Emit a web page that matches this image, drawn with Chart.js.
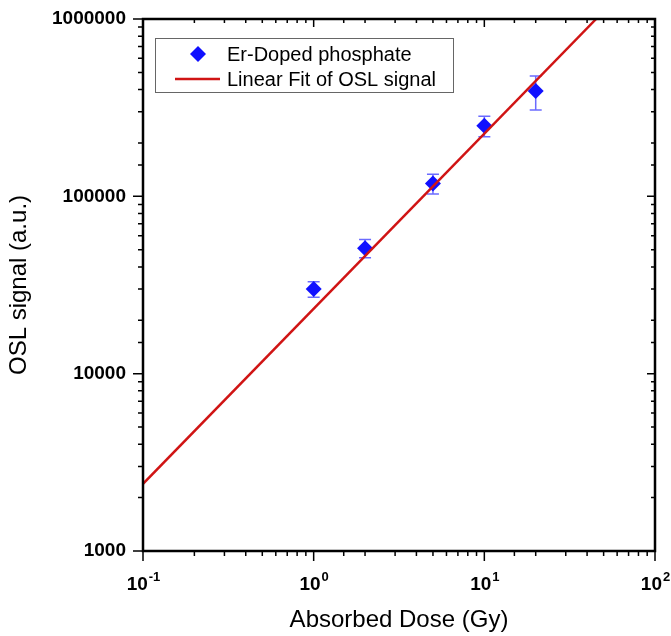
<!DOCTYPE html>
<html>
<head>
<meta charset="utf-8">
<script src="https://cdn.jsdelivr.net/npm/chart.js@4.4.1/dist/chart.umd.min.js"></script>
<style>
html,body{margin:0;padding:0;background:#fff;}
#wrap{width:671px;height:636px;}
</style>
</head>
<body>
<div id="wrap"><canvas id="oslChart"></canvas></div>
<script>
// measured OSL response vs absorbed dose
const dose = [1, 2, 5, 10, 20];
const signal = [30000, 51000, 118000, 250000, 392000];
const signalErr = [3000, 6000, 15000, 33000, 85000];

// end points of the linear fit (log-log)
const fitDose = [0.1, 45.2];
const fitSignal = [2390, 1000000];

const xTickExps = ['-1', '0', '1', '2'];
const yTickLabels = ['1000', '10000', '100000', '1000000'];

const FONT = '"Liberation Sans", Arial, sans-serif';

function isDecade(v){
    const l = Math.log10(v);
    return Math.abs(l - Math.round(l)) < 1e-6;
}

const decor = {
    id: 'decor',
    beforeDatasetsDraw(chart){
        const ctx = chart.ctx;
        const xs = chart.scales.x, ys = chart.scales.y;
        const ds = chart.data.datasets[0];
        ctx.save();
        ctx.strokeStyle = 'rgba(70,70,255,0.8)';
        ctx.lineWidth = 1.5;
        ds.data.forEach((p, i) => {
            const e = ds.errors[i];
            const px = xs.getPixelForValue(p.x);
            const top = ys.getPixelForValue(p.y + e);
            const bot = ys.getPixelForValue(p.y - e);
            ctx.beginPath();
            ctx.moveTo(px, top); ctx.lineTo(px, bot);
            ctx.moveTo(px - 6, top); ctx.lineTo(px + 6, top);
            ctx.moveTo(px - 6, bot); ctx.lineTo(px + 6, bot);
            ctx.stroke();
        });
        ctx.restore();
    },
    afterDatasetsDraw(chart){
        const ctx = chart.ctx;
        const a = chart.chartArea;
        const xs = chart.scales.x, ys = chart.scales.y;
        ctx.save();
        ctx.strokeStyle = '#000';

        // tick marks: out on bottom/left, in on top/right
        ctx.lineWidth = 1.5;
        ctx.beginPath();
        xs.ticks.forEach(t => {
            const px = xs.getPixelForValue(t.value);
            const big = isDecade(t.value);
            ctx.moveTo(px, a.bottom); ctx.lineTo(px, a.bottom + (big ? 10 : 5));
            ctx.moveTo(px, a.top); ctx.lineTo(px, a.top + (big ? 8 : 4));
        });
        ys.ticks.forEach(t => {
            const py = ys.getPixelForValue(t.value);
            const big = isDecade(t.value);
            ctx.moveTo(a.left, py); ctx.lineTo(a.left - (big ? 10 : 5), py);
            ctx.moveTo(a.right, py); ctx.lineTo(a.right - (big ? 8 : 4), py);
        });
        ctx.stroke();

        // frame
        ctx.lineWidth = 2.5;
        ctx.strokeRect(a.left, a.top, a.right - a.left, a.bottom - a.top);

        // x tick labels 10^n
        ctx.fillStyle = '#000';
        ctx.textBaseline = 'alphabetic';
        ctx.textAlign = 'left';
        xs.ticks.forEach(t => {
            if (!isDecade(t.value)) return;
            const exp = xTickExps[Math.round(Math.log10(t.value)) + 1];
            ctx.font = 'bold 19px ' + FONT;
            const wb = ctx.measureText('10').width;
            ctx.font = 'bold 13px ' + FONT;
            const we = ctx.measureText(exp).width;
            const px = xs.getPixelForValue(t.value);
            const x0 = px - (wb + we) / 2;
            ctx.font = 'bold 19px ' + FONT;
            ctx.fillText('10', x0, a.bottom + 39);
            ctx.font = 'bold 13px ' + FONT;
            ctx.fillText(exp, x0 + wb + 1, a.bottom + 30);
        });

        // legend box
        const lx = 155, ly = 38, lw = 298, lh = 54;
        ctx.fillStyle = '#fff';
        ctx.fillRect(lx, ly, lw, lh);
        ctx.strokeStyle = '#666';
        ctx.lineWidth = 1;
        ctx.strokeRect(lx + 0.5, ly + 0.5, lw, lh);

        const pts = chart.data.datasets[0], fit = chart.data.datasets[1];
        ctx.font = '20px ' + FONT;
        ctx.textBaseline = 'middle';
        // diamond symbol
        ctx.fillStyle = pts.backgroundColor;
        ctx.beginPath();
        ctx.moveTo(198, 46); ctx.lineTo(206, 54); ctx.lineTo(198, 62); ctx.lineTo(190, 54);
        ctx.closePath(); ctx.fill();
        ctx.fillStyle = '#000';
        ctx.fillText(pts.label, 227, 55);
        // line symbol
        ctx.strokeStyle = fit.borderColor;
        ctx.lineWidth = 2.5;
        ctx.beginPath(); ctx.moveTo(175, 79); ctx.lineTo(220, 79); ctx.stroke();
        ctx.fillText(fit.label, 227, 80);
        ctx.restore();
    }
};

new Chart(document.getElementById('oslChart'), {
    type: 'scatter',
    data: {
        datasets: [{
            label: 'Er-Doped phosphate',
            data: dose.map((d, i) => ({x: d, y: signal[i]})),
            errors: signalErr,
            pointStyle: 'rectRot',
            pointRadius: 8,
            pointHoverRadius: 8,
            backgroundColor: '#1010ff',
            borderWidth: 0
        }, {
            label: 'Linear Fit of OSL signal',
            data: fitDose.map((d, i) => ({x: d, y: fitSignal[i]})),
            showLine: true,
            pointRadius: 0,
            borderColor: '#d01414',
            borderWidth: 2.5,
            order: -1
        }]
    },
    options: {
        responsive: true,
        maintainAspectRatio: false,
        animation: false,
        events: [],
        layout: {padding: {top: 19, right: 16, left: 0, bottom: 0}},
        plugins: {legend: {display: false}, tooltip: {enabled: false}},
        scales: {
            x: {
                type: 'logarithmic',
                min: 0.1, max: 100,
                grid: {display: false, drawTicks: false},
                border: {display: false},
                ticks: {display: false, autoSkip: false},
                title: {
                    display: true,
                    text: 'Absorbed Dose (Gy)',
                    color: '#000',
                    font: {family: FONT, size: 24},
                    padding: {top: 0, bottom: 1}
                },
                afterFit(s){ s.height = 85; s.paddingLeft = 0; s.paddingRight = 0; }
            },
            y: {
                type: 'logarithmic',
                min: 1000, max: 1000000,
                grid: {display: false, drawTicks: false},
                border: {display: false},
                ticks: {
                    autoSkip: false,
                    padding: 17,
                    color: '#000',
                    font: {family: FONT, size: 19, weight: 'bold'},
                    callback: v => isDecade(v) ? yTickLabels[Math.round(Math.log10(v)) - 3] : ''
                },
                title: {
                    display: true,
                    text: 'OSL signal (a.u.)',
                    color: '#000',
                    font: {family: FONT, size: 24},
                    padding: {top: 5, bottom: 0}
                },
                afterFit(s){ s.width = 143; s.paddingTop = 0; s.paddingBottom = 0; }
            }
        }
    },
    plugins: [decor]
});
</script>
</body>
</html>
